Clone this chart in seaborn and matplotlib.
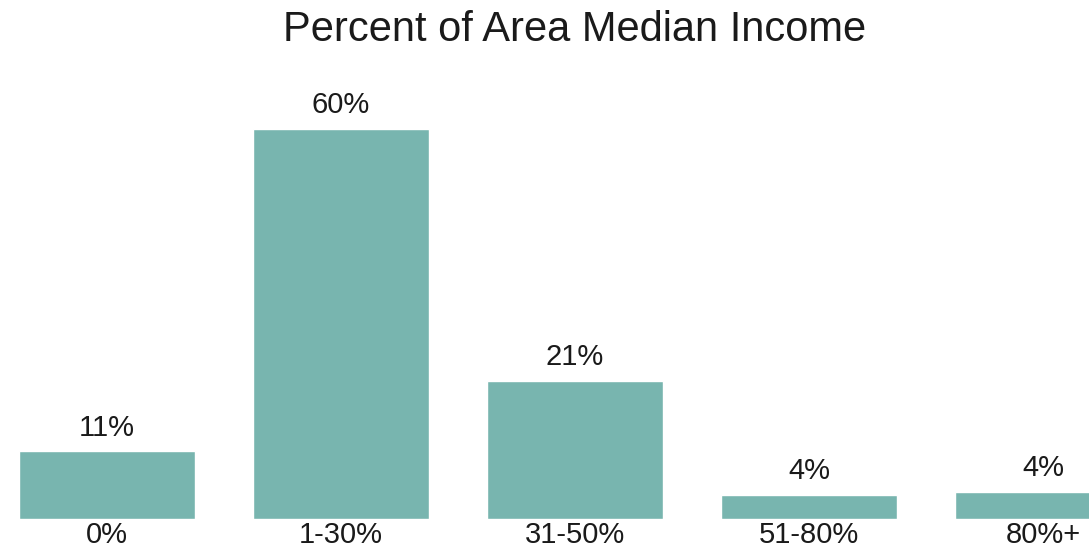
import matplotlib
matplotlib.use("Agg")
import matplotlib.pyplot as plt
import seaborn as sns
import pandas as pd

categories = ["0%", "1-30%", "31-50%", "51-80%", "80%+"]
values = [10.4, 60.0, 21.2, 3.7, 4.2]
value_labels = ["11%", "60%", "21%", "4%", "4%"]
title = "Percent of Area Median Income"
bar_color = "#78B5AF"

sns.set_theme(style="white")
plt.rcParams["font.family"] = ["Liberation Sans", "DejaVu Sans"]

df = pd.DataFrame({"category": categories, "value": values})

W, H = 1089, 557
fig = plt.figure(figsize=(W / 100, H / 100), dpi=100)
# axes: bottom at pixel 519, top at pixel 90
ax = fig.add_axes([0, (H - 519) / H, 1, (519 - 90) / H])
sns.barplot(data=df, x="category", y="value", color=bar_color, width=176 / 234,
            saturation=1, ax=ax)
ax.set_xlim(-107 / 234, (W - 107) / 234)
ax.set_ylim(0, (519 - 90) / 6.5)
for p, lab in zip(ax.patches, value_labels):
    ax.annotate(lab, (p.get_x() + p.get_width() / 2, p.get_height()),
                xytext=(0, 7), textcoords="offset points", ha="center", va="bottom",
                fontsize=21, color="#1a1a1a")
ax.set_xlabel("")
ax.set_ylabel("")
ax.set_yticks([])
ax.tick_params(axis="x", length=0, labelsize=21, pad=1.5, labelcolor="#1a1a1a")
for s in ax.spines.values():
    s.set_visible(False)
fig.text(575 / W, 1 - 30 / H, title, ha="center", va="center", fontsize=30, color="#1a1a1a")
fig.savefig("out.png", dpi=100)
